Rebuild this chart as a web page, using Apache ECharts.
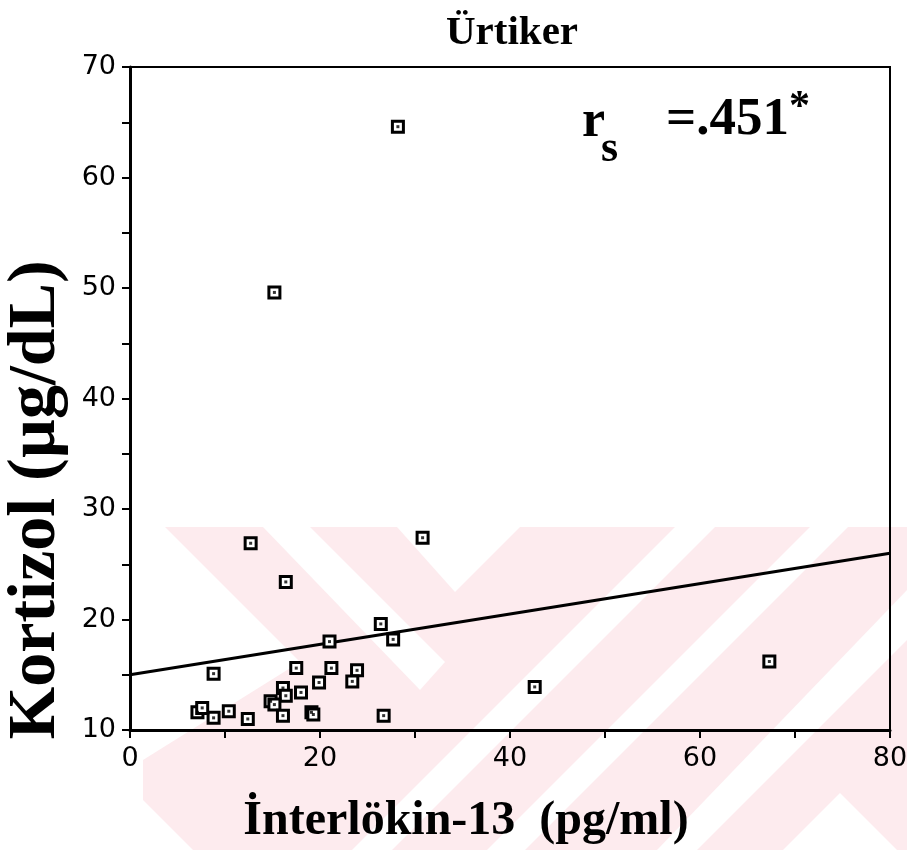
<!DOCTYPE html>
<html><head><meta charset="utf-8">
<script src="https://cdn.jsdelivr.net/npm/echarts@6/dist/echarts.min.js"></script>
<style>html,body{margin:0;padding:0;background:#fff}#c{width:907px;height:850px}</style>
</head><body><div id="c"></div>
<script>
const titleText = 'Ürtiker';
const xTitle = 'İnterlökin-13  (pg/ml)';
const yTitle = 'Kortizol (µg/dL)';
const il13 = [28.2, 15.2, 12.7, 30.8, 16.4, 26.4, 27.7, 21.0, 8.8, 17.5, 21.2, 23.9, 23.4, 19.9, 18.0, 16.1, 16.4, 14.8, 15.2, 16.1, 19.1, 19.3, 26.7, 12.4, 10.4, 8.8, 7.1, 7.6, 42.6, 67.3];
const kortizol = [64.6, 49.6, 26.9, 27.4, 23.4, 19.6, 18.2, 18.0, 15.1, 15.6, 15.6, 15.4, 14.4, 14.3, 13.4, 13.8, 13.1, 12.6, 12.3, 11.3, 11.6, 11.4, 11.3, 11.0, 11.7, 11.1, 11.6, 12.0, 13.9, 16.2];
const fitX = [0, 80];
const fitY = [15.0, 26.0];
const xRange = [0, 80], yRange = [10, 70];

const pts = il13.map((v, i) => [v, kortizol[i]]);
const fit = fitX.map((v, i) => [v, fitY[i]]);

const pink = '#fdebee';
const wm = [
  [[143,527],[907,527],[907,850],[143,850]]
];
const wmWhite = [
  [[143,527],[165,527],[300,662],[143,760]],
  [[263,527],[310,527],[445,662],[420,690]],
  [[397,527],[520,527],[455,592]],
  [[675,527],[715,527],[392,850],[352,850]],
  [[810,527],[848,527],[525,850],[487,850]],
  [[907,590],[907,640],[697,850],[657,850]],
  [[840,793],[897,850],[783,850]],
  [[143,800],[193,850],[143,850]]
];
const serif = '"Liberation Serif", "Times New Roman", serif';
const graphics = [];
wm.forEach(p => graphics.push({type:'polygon', z:-10, silent:true, shape:{points:p}, style:{fill:pink}}));
wmWhite.forEach(p => graphics.push({type:'polygon', z:-9, silent:true, shape:{points:p}, style:{fill:'#fff'}}));
// correlation annotation
graphics.push({type:'text', left:582, top:97, z:10, style:{text:'r', font:'bold 52px ' + serif, fill:'#000'}});
graphics.push({type:'text', left:601, top:128, z:10, style:{text:'s', font:'bold 44px ' + serif, fill:'#000'}});
graphics.push({type:'text', left:666, top:94, z:10, style:{text:'=.451', font:'bold 53px ' + serif, fill:'#000'}});
graphics.push({type:'text', left:789, top:87, z:10, style:{text:'*', font:'bold 42px ' + serif, fill:'#000'}});
// axis titles
graphics.push({type:'text', x:466, y:822, z:10, style:{text:xTitle, font:'bold 48px ' + serif, fill:'#000', align:'center', verticalAlign:'middle'}});
graphics.push({type:'text', x:36, y:500, rotation:Math.PI/2, z:10, style:{text:yTitle, font:'bold 68px ' + serif, fill:'#000', align:'center', verticalAlign:'middle'}});

const chart = echarts.init(document.getElementById('c'), null, {renderer:'canvas'});
chart.setOption({
  backgroundColor:'#fff',
  animation:false,
  title:{text:titleText, left:507, textAlign:'center', top:8,
    textStyle:{fontFamily:'Liberation Serif', fontWeight:'bold', fontSize:41, color:'#000'}},
  grid:{left:130, right:17, top:67, bottom:120, containLabel:false, outerBoundsMode:'none',
    show:true, borderColor:'#000', borderWidth:2, backgroundColor:'transparent'},
  graphic: graphics,
  xAxis:{type:'value', min:xRange[0], max:xRange[1], interval:20,
    axisLine:{lineStyle:{color:'#000', width:3}},
    axisTick:{show:true, length:8, lineStyle:{color:'#000', width:2}},
    minorTick:{show:true, splitNumber:2, length:8, lineStyle:{color:'#000', width:2}},
    splitLine:{show:false},
    axisLabel:{fontFamily:'DejaVu Sans', fontSize:27, color:'#000', margin:15}},
  yAxis:{type:'value', min:yRange[0], max:yRange[1], interval:10,
    axisLine:{show:true, lineStyle:{color:'#000', width:3}},
    axisTick:{show:true, length:8, lineStyle:{color:'#000', width:2}},
    minorTick:{show:true, splitNumber:2, length:8, lineStyle:{color:'#000', width:2}},
    splitLine:{show:false},
    axisLabel:{fontFamily:'DejaVu Sans', fontSize:27, color:'#000', margin:14}},
  series:[
    {type:'line', data:fit, symbol:'none', lineStyle:{color:'#000', width:3}, z:3, silent:true},
    {type:'scatter', data:pts, symbol:'rect', symbolSize:11, itemStyle:{color:'#fff', borderColor:'#000', borderWidth:3, opacity:1}, z:4},
    {type:'scatter', data:pts, symbol:'rect', symbolSize:3, itemStyle:{color:'#000'}, z:5}
  ]
});
</script></body></html>
